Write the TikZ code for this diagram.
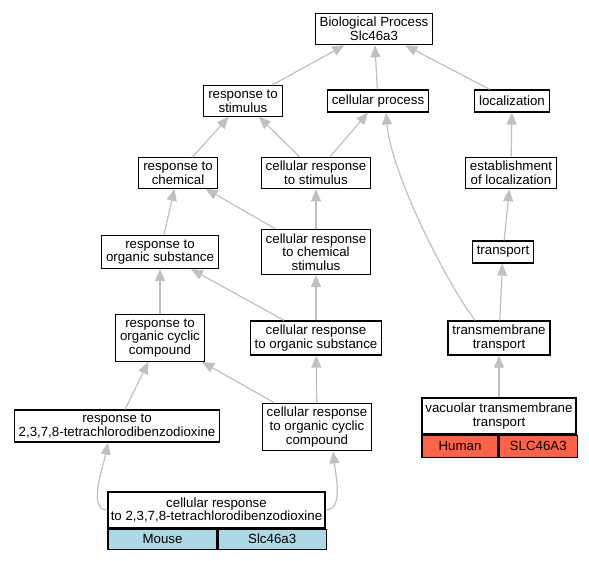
\documentclass[tikz,border=0pt]{standalone}
\usepackage{fontspec}
\setmainfont{Liberation Sans}
\usetikzlibrary{arrows.meta}
\definecolor{edgegray}{HTML}{C0C0C0}
\definecolor{mouseblue}{HTML}{ADD8E6}
\definecolor{humanred}{HTML}{FF6347}

\begin{document}
\begin{tikzpicture}[x=1pt,y=-1pt]
  \useasboundingbox (0,0) rectangle (589,560);

        \begin{scope}[every node/.style={draw,line width=1.2pt,fill=white,align=center,
            font=\fontsize{13.3}{13.6}\selectfont,inner xsep=4.5pt,inner ysep=4pt,minimum height=22pt}]
          \node (bp)    at (374,29)  {Biological Process\\Slc46a3};
          \node (rs)    at (243,101) {response to\\stimulus};
          \node (cp)    at (378,101) {cellular process};
          \node (loc)   at (512,101) {localization};
          \node (rc)    at (178,173) {response to\\chemical};
          \node (crs)   at (316,173) {cellular response\\to stimulus};
          \node (eol)   at (511,173) {establishment\\of localization};
          \node (ros)   at (160,252) {response to\\organic substance};
          \node (crcs)  at (316,252) {cellular response\\to chemical\\stimulus};
          \node (tr)    at (503,252) {transport};
          \node (rocc)  at (160,338) {response to\\organic cyclic\\compound};
          \node (cros)  at (316,338) {cellular response\\to organic substance};
          \node (tmt)   at (499,338) {transmembrane\\transport};
          \node (rtcdd) at (117,426) {response to\\2,3,7,8-tetrachlorodibenzodioxine};
          \node (crocc) at (317,427) {cellular response\\to organic cyclic\\compound};
          \node[inner sep=0pt,minimum width=217pt,minimum height=36pt]
            (crtcdd) at (216.5,510) {cellular response\\to 2,3,7,8-tetrachlorodibenzodioxine};
          \node[inner sep=0pt,minimum width=154pt,minimum height=36pt]
            (vtt)    at (499,416)   {vacuolar transmembrane\\transport};
        \end{scope}

        \begin{scope}[every node/.style={draw,line width=1.2pt,anchor=north west,inner sep=0pt,
            font=\fontsize{13.3}{13.6}\selectfont}]
          \node[fill=mouseblue,minimum width=109pt,minimum height=20pt]
            (crtcddorg)  at (crtcdd.south west)   {Mouse};
          \node[fill=mouseblue,minimum width=108pt,minimum height=20pt]
            (crtcddgene) at (crtcddorg.north east) {Slc46a3};
          \node[fill=humanred,minimum width=76pt,minimum height=22pt]
            (vttorg)     at (vtt.south west)       {Human};
          \node[fill=humanred,minimum width=78pt,minimum height=22pt]
            (vttgene)    at (vttorg.north east)    {SLC46A3};
        \end{scope}

        \begin{scope}[every edge/.style={draw=edgegray,line width=1.2pt,
            -{Triangle[length=12pt,width=10pt]}}]
          \path (rs)    edge (bp);
          \path (cp)    edge (bp);
          \path (loc)   edge (bp);
          \path (rc)    edge (rs);
          \path (crs)   edge (rs);
          \path (crs)   edge (cp);
          \path (eol)   edge (loc);
          \path (tr)    edge (eol);
          \path (ros)   edge (rc);
          \path (crcs)  edge (rc);
          \path (crcs)  edge (crs);
          \path (rocc)  edge (ros);
          \path (cros)  edge (ros);
          \path (cros)  edge (crcs);
          \path (tmt)   edge (tr);
          \path (rtcdd) edge (rocc);
          \path (crocc) edge (rocc);
          \path (crocc) edge (cros);
          \path (vtt)   edge (tmt);
          \path ([xshift=-24pt]tmt.north) edge[to path={.. controls +(-30,-40) and +(5,60) .. (\tikztotarget)}]
            ([xshift=8pt]cp.south);
          \path (crtcdd.west) edge[to path={.. controls +(-20,0) and +(-5,25) .. (\tikztotarget)}]
            ([xshift=-9pt]rtcdd.south);
          \path (crtcdd.east) edge[to path={.. controls +(18,0) and +(3,25) .. (\tikztotarget)}]
            ([xshift=16pt]crocc.south);
        \end{scope}

\end{tikzpicture}
\end{document}
